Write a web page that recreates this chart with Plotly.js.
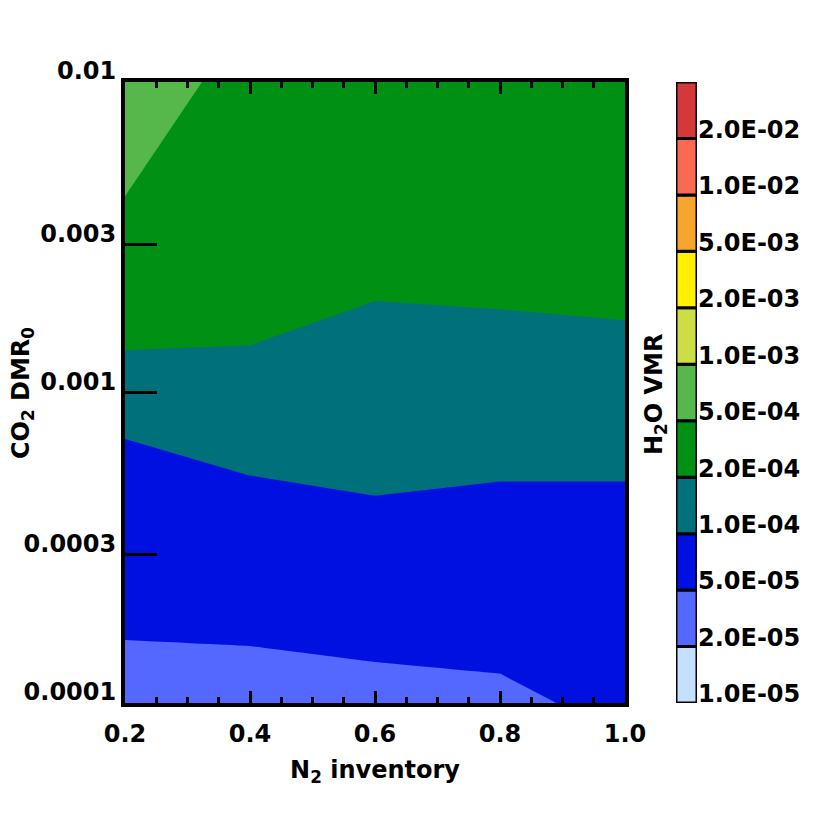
<!DOCTYPE html>
<html>
<head>
<meta charset="utf-8">
<script src="https://cdn.plot.ly/plotly-3.0.1.min.js"></script>
<style>html,body{margin:0;padding:0;background:#fff;}#chart{width:830px;height:830px;}</style>
</head>
<body>
<div id="chart"></div>
<script>
// N2 inventory (x grid)
const n2Inventory = [0.2, 0.4, 0.6, 0.8, 1.0];
// CO2 DMR0 (y grid)
const co2DMR = [0.0001, 0.0003, 0.001, 0.003, 0.01];
// H2O VMR, one row per CO2 DMR0 value, one column per N2 inventory value
const h2oRow_1e4 = [3.89e-5, 3.66e-5, 4.18e-5, 4.68e-5, 5.39e-5];
const h2oRow_3e4 = [6.50e-5, 7.14e-5, 7.14e-5, 6.29e-5, 6.70e-5];
const h2oRow_1e3 = [1.14e-4, 1.30e-4, 1.50e-4, 1.45e-4, 1.40e-4];
const h2oRow_3e3 = [4.15e-4, 3.50e-4, 2.31e-4, 2.43e-4, 2.63e-4];
const h2oRow_1e2 = [7.02e-4, 3.74e-4, 3.00e-4, 2.90e-4, 3.00e-4];
// contour levels and colours
const levels = [1e-5, 2e-5, 5e-5, 1e-4, 2e-4, 5e-4, 1e-3, 2e-3, 5e-3, 1e-2, 2e-2];
const levelLabels = ['1.0E-05','2.0E-05','5.0E-05','1.0E-04','2.0E-04','5.0E-04','1.0E-03','2.0E-03','5.0E-03','1.0E-02','2.0E-02'];
const levelColors = ['#c4e0ff','#5468ff','#0010e0','#00707a','#009114','#56b74a','#cddd45','#fff000','#f7a52c','#f86b52','#d43838'];
// axis tick labels
const yTickVals = [0.01, 0.003, 0.001, 0.0003, 0.0001];
const yTickText = ['0.01', '0.003', '0.001', '0.0003', '0.0001'];

const z = [h2oRow_1e4, h2oRow_3e4, h2oRow_1e3, h2oRow_3e3, h2oRow_1e2];

// step colorscale for finely spaced contour levels
const cStart = levels[0], cSize = 1e-5, cEnd = 1e-3;
const lo = cStart - cSize / 2, hi = cEnd + cSize / 2;
const colorscale = [[0, levelColors[0]]];
let lastIdx = 0;
for (let k = 1; k < levels.length; k++) {
  if (levels[k] < hi) {
    const p = (levels[k] - lo) / (hi - lo);
    colorscale.push([p, levelColors[k - 1]]);
    colorscale.push([p, levelColors[k]]);
    lastIdx = k;
  }
}
colorscale.push([1, levelColors[lastIdx]]);

const fnt = {family: 'DejaVu Sans', size: 24, color: '#000', weight: 'bold'};

const contour = {
  type: 'contour',
  x: n2Inventory,
  y: co2DMR.map(v => Math.log10(v)),
  z: z,
  autocontour: false,
  contours: {start: cStart, end: cEnd, size: cSize, coloring: 'fill', showlines: false},
  line: {width: 0, smoothing: 0},
  colorscale: colorscale,
  showscale: false,
  hoverinfo: 'skip'
};

const colorbarBars = {
  type: 'bar',
  x: levels.map(() => 0),
  y: levels.map(() => 1),
  base: levels.map((_, i) => i),
  width: 1,
  marker: {color: levelColors, line: {color: '#000', width: 3}},
  xaxis: 'x2', yaxis: 'y2',
  cliponaxis: false,
  hoverinfo: 'skip',
  showlegend: false
};

const W = 830, H = 830, ml = 125, mr = 133, mt = 82, mb = 127;
const pw = W - ml - mr, ph = H - mt - mb;

const layout = {
  width: W, height: H,
  margin: {l: ml, r: mr, t: mt, b: mb},
  showlegend: false,
  font: fnt,
  xaxis: {
    domain: [0, 500 / pw],
    range: [0.2, 1.0],
    tickmode: 'linear', tick0: 0.2, dtick: 0.2,
    tickformat: '.1f',
    ticks: 'inside', ticklen: 12, tickwidth: 3, tickcolor: '#000',
    minor: {dtick: 0.05, tick0: 0.2, ticks: 'inside', ticklen: 6, tickwidth: 3, tickcolor: '#000', showgrid: false},
    showline: true, linewidth: 4, linecolor: '#000', mirror: 'ticks',
    showgrid: false, zeroline: false,
    tickfont: fnt,
    ticklabelstandoff: 6,
    layer: 'above traces',
    title: {text: 'N<sub>2</sub> inventory', font: fnt, standoff: 15}
  },
  yaxis: {
    range: [-4, -2],
    tickvals: yTickVals.map(v => Math.log10(v)),
    ticktext: yTickText,
    ticks: 'inside', ticklen: 32, tickwidth: 3, tickcolor: '#000',
    showline: true, linewidth: 4, linecolor: '#000', mirror: true,
    showgrid: false, zeroline: false,
    tickfont: fnt,
    ticklabelshift: -11,
    ticklabelstandoff: 0,
    layer: 'above traces'
  },
  xaxis2: {
    domain: [(676 - ml) / pw, 1],
    range: [-0.5, 0.5],
    visible: false,
    anchor: 'y2'
  },
  yaxis2: {
    domain: [0, 1],
    range: [0, levels.length],
    anchor: 'x2',
    side: 'right',
    tickvals: levels.map((_, i) => i + 0.16),
    ticktext: levelLabels,
    showline: false, showgrid: false, zeroline: false,
    tickfont: fnt
  },
  annotations: [
    {text: 'CO<sub>2</sub> DMR<sub>0</sub>', xref: 'paper', yref: 'paper',
     x: (22 - ml) / pw, y: (H - mb - 393) / ph, xanchor: 'center', yanchor: 'middle',
     textangle: -90, showarrow: false, font: fnt},
    {text: 'H<sub>2</sub>O VMR', xref: 'paper', yref: 'paper',
     x: (655 - ml) / pw, y: (H - mb - 395) / ph, xanchor: 'center', yanchor: 'middle',
     textangle: -90, showarrow: false, font: fnt}
  ]
};

Plotly.newPlot('chart', [contour, colorbarBars], layout, {staticPlot: true});
</script>
</body>
</html>
